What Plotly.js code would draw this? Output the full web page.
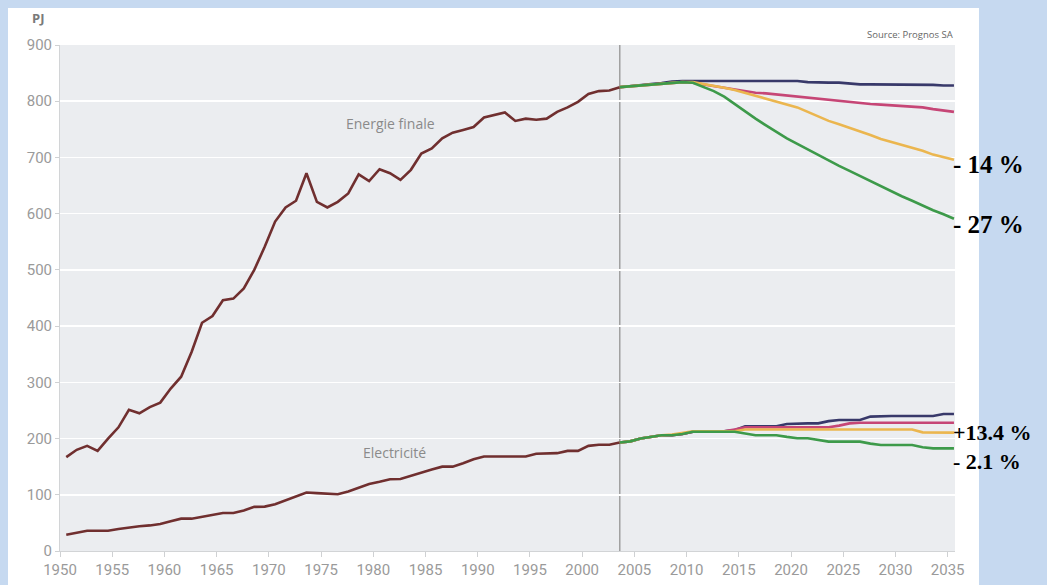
<!DOCTYPE html>
<html>
<head>
<meta charset="utf-8">
<script src="https://cdn.plot.ly/plotly-3.0.1.min.js"></script>
<style>html,body{margin:0;padding:0;background:#c6d9f0;}#chart{width:1047px;height:585px;}</style>
</head>
<body>
<div id="chart"></div>
<script>
// ---- data ----
const histYears = [];
for (let y = 1950; y <= 2003; y++) histYears.push(y);
const energyHist = [167,180,187,178,200,220,251,245,256,264,
  289,310,354,406,418,446,449,467,500,541,
  586,611,623,672,621,611,621,636,670,658,
  679,672,660,678,707,716,734,744,749,754,
  771,776,780,765,769,767,769,781,789,799,
  813,818,819,825];
const elecHist = [29,33,36,36,36,39,42,44,45.5,48,
  53,57.5,57.5,61,64.5,67.6,67.6,72,78.5,79,
  83,90,97,104,103,102,101,106,113,119,
  123,127.5,128,134,139.5,145,150,150,156,163,
  168,168,168,168,168,173,173,174,178,178,
  187,189,189,193];

const fcYears = [];
for (let y = 2003; y <= 2035; y++) fcYears.push(y);
const energyNavy = [825,826.5,828.5,830.5,832.5,835,836,836,836,836,836,836,836,836,836,836,836,836,834,833,833,833,831,830,830,830,830,830,830,830,829,828,828];
const energyPink = [825,826.5,828.5,830.5,832,833,834,833,830,827,825,821,818,815,814,812,811,809,807,805,802,800.5,799,797,795,794,793,791,790,789,786,783,781];
const energyYellow = [825,826.5,828.5,830.5,832,833,834,834,831,828,824,820,815,810,805,800,795,789,781,773,765,759,753,746,740,733,728,723,717,712,705,700,696];
const energyGreen = [825,826.5,828.5,830.5,832,833,834,833,825,818,808,795,781,769,757,745,734,724,714,705,695,685,676,667,657,648,640,631,623,614,606,599,591];

const elecNavy = [193,195,200,203,206,206,208,212,212,213,213,215,222,222,222,222,226,227,227,227,231,233,233,233,239,240,240,240,240,240,240,243.7,243.7];
const elecPink = [193,195,200,203,206,206,208,212,212,213,213,216,220,220,220,220,220,220,220,220,220,223,227,228,228,228,228,228,228,228,228,228,228];
const elecYellow = [193,195,200,203,206,207,210,213,213,213,213,213,216,216,216,216,216,216,216,216,216,216,216,216,216,216,216,216,216,211,210.5,210.5,210.5];
const elecGreen = [193,195,200,203,206,206,208,212,212,212,212,212,209,206,206,206,203,200.5,200.5,197,194.5,194.5,194.5,194.5,191,188.5,188.5,188.5,188.5,184.5,182.6,182.6,182.6];

const yTicks = [0,100,200,300,400,500,600,700,800,900];
const xTicks = [1950,1955,1960,1965,1970,1975,1980,1985,1990,1995,2000,2005,2010,2015,2020,2025,2030,2035];

const seriesLabels = {energy: 'Energie finale', elec: 'Electricité'};
const endLabels = [
  {text: '- 14 %', y: 0.763, size: 25},
  {text: '- 27 %', y: 0.646, size: 25},
  {text: '+13.4 %', y: 0.234, size: 22},
  {text: '- 2.1 %', y: 0.176, size: 22}
];

// ---- plotting ----
const OFF = 0.6; // data plotted mid-year
const sh = a => a.map(v => v + OFF);
const BROWN = '#702f2f', NAVY = '#38396a', PINK = '#c64676', YEL = '#ebb64f', GRN = '#3d9a4a';
const W = 2.6;
function tr(x, y, c) {
  return {x: sh(x), y: y, type: 'scatter', mode: 'lines', line: {color: c, width: W}, hoverinfo: 'skip', showlegend: false};
}
const data = [
  tr(histYears, energyHist, BROWN),
  tr(histYears, elecHist, BROWN),
  tr(fcYears, energyNavy, NAVY),
  tr(fcYears, elecNavy, NAVY),
  tr(fcYears, energyPink, PINK),
  tr(fcYears, elecPink, PINK),
  tr(fcYears, energyYellow, YEL),
  tr(fcYears, elecYellow, YEL),
  tr(fcYears, energyGreen, GRN),
  tr(fcYears, elecGreen, GRN)
];

const tickFont = {family: 'Liberation Sans Narrow, Arial Narrow, Roboto, sans-serif', size: 15, color: '#9a9a9a'};
const splitX = histYears[histYears.length - 1] + OFF;

const annotations = [
  {xref: 'paper', yref: 'paper', x: -0.0246, y: 1.053, xanchor: 'center', yanchor: 'middle', showarrow: false,
   text: '<b>PJ</b>', font: {family: 'Open Sans, sans-serif', size: 13, color: '#7a7a7a'}},
  {xref: 'paper', yref: 'paper', x: 1.0, y: 1.0, xanchor: 'right', yanchor: 'bottom', yshift: 2, showarrow: false,
   text: 'Source: Prognos SA', font: {family: 'Open Sans, sans-serif', size: 9.5, color: '#666'}},
  {xref: 'x', yref: 'y', x: 1981.6, y: 761, showarrow: false, text: seriesLabels.energy,
   font: {family: 'Open Sans, sans-serif', size: 14, color: '#8a8a8a'}},
  {xref: 'x', yref: 'y', x: 1982.0, y: 176, showarrow: false, text: seriesLabels.elec,
   font: {family: 'Open Sans, sans-serif', size: 14, color: '#8a8a8a'}}
];
endLabels.forEach(l => annotations.push({
  xref: 'paper', yref: 'paper', x: 0.997, y: l.y, xanchor: 'left', yanchor: 'middle', showarrow: false,
  borderpad: 0,
  text: '<b>' + l.text + '</b>', font: {family: 'Liberation Serif, Times New Roman, serif', size: l.size, color: '#000'}
}));

const layout = {
  width: 1047, height: 585,
  margin: {l: 60, r: 92, t: 45, b: 34, pad: 0},
  paper_bgcolor: '#c6d9f0',
  plot_bgcolor: 'rgba(0,0,0,0)',
  showlegend: false,
  xaxis: {
    range: [1950, 2035.7], tickvals: xTicks, ticktext: xTicks.map(String),
    showgrid: false, zeroline: false, showline: true, linecolor: '#d2d4d6', linewidth: 1,
    ticks: 'outside', ticklen: 5, tickcolor: '#cfd1d3', tickfont: tickFont
  },
  yaxis: {
    range: [0, 900], tickvals: yTicks, ticktext: yTicks.map(String),
    showgrid: true, gridcolor: '#ffffff', gridwidth: 1.5, zeroline: false,
    showline: true, linecolor: '#d2d4d6', linewidth: 1,
    ticks: 'outside', ticklen: 4, tickcolor: '#cfd1d3', tickfont: tickFont
  },
  shapes: [
    {type: 'rect', xref: 'paper', yref: 'paper', x0: -0.0581, x1: 1.0268, y0: -0.08, y1: 1.0731,
     fillcolor: '#ffffff', line: {width: 0}, layer: 'below'},
    {type: 'rect', xref: 'paper', yref: 'paper', x0: 0, x1: 1, y0: 0, y1: 1,
     fillcolor: '#ebedf0', line: {width: 0}, layer: 'below'},
    {type: 'line', xref: 'x', yref: 'paper', x0: splitX, x1: splitX, y0: 0, y1: 1,
     line: {color: '#a0a0a0', width: 1.5}, layer: 'below'}
  ],
  annotations: annotations
};

Plotly.newPlot('chart', data, layout, {displayModeBar: false, staticPlot: true});
</script>
</body>
</html>
